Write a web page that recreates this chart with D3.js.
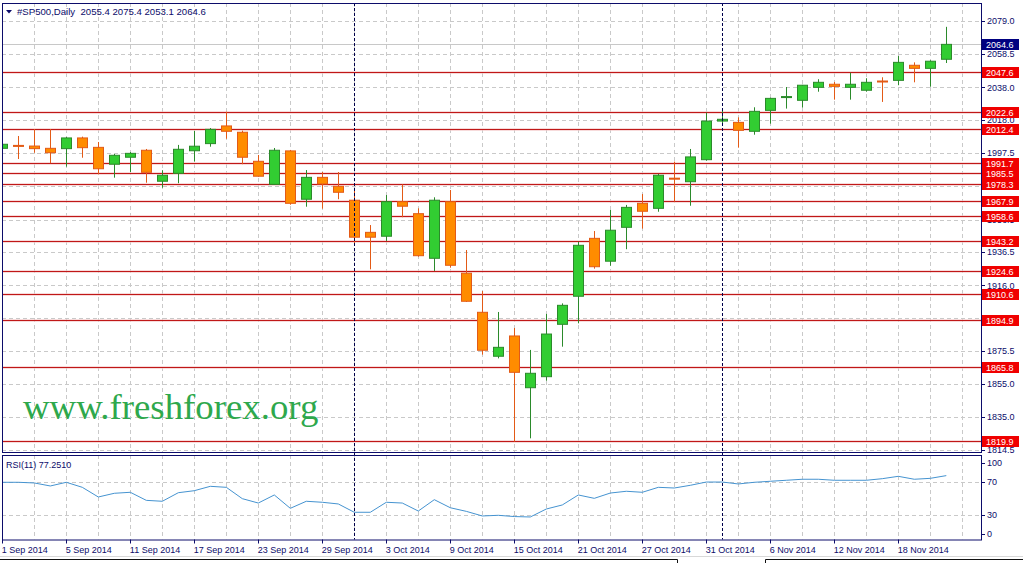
<!DOCTYPE html>
<html>
<head>
<meta charset="utf-8">
<script src="https://cdn.jsdelivr.net/npm/d3@7"></script>
<style>
  html, body { margin: 0; padding: 0; background: #ffffff; }
  svg { display: block; }
  text { font-family: "Liberation Sans", Arial, sans-serif; }
</style>
</head>
<body>
<div id="chart"></div>
<script>
// ---------------- DATA ----------------
const symbol = "#SP500,Daily";
const dates = [
  "2014-09-01","2014-09-02","2014-09-03","2014-09-04","2014-09-05","2014-09-08","2014-09-09","2014-09-10","2014-09-11","2014-09-12",
  "2014-09-15","2014-09-16","2014-09-17","2014-09-18","2014-09-19","2014-09-22","2014-09-23","2014-09-24","2014-09-25","2014-09-26",
  "2014-09-29","2014-09-30","2014-10-01","2014-10-02","2014-10-03","2014-10-06","2014-10-07","2014-10-08","2014-10-09","2014-10-10",
  "2014-10-13","2014-10-14","2014-10-15","2014-10-16","2014-10-17","2014-10-20","2014-10-21","2014-10-22","2014-10-23","2014-10-24",
  "2014-10-27","2014-10-28","2014-10-29","2014-10-30","2014-10-31","2014-11-03","2014-11-04","2014-11-05","2014-11-06","2014-11-07",
  "2014-11-10","2014-11-11","2014-11-12","2014-11-13","2014-11-14","2014-11-17","2014-11-18","2014-11-19","2014-11-20","2014-11-21"
];
const openP = [
  2000.5,2002.3,2001.9,2000.5,2000.3,2006.9,2001.1,1990.7,1995.0,1999.3,
  1980.2,1985.1,1999.0,2003.4,2014.3,2010.4,1992.5,1978.3,1998.9,1969.1,
  1982.6,1977.1,1968.5,1948.7,1946.3,1967.6,1960.2,1932.7,1967.6,1923.5,
  1899.4,1872.3,1884.8,1852.9,1859.7,1892.0,1909.3,1945.0,1930.9,1951.8,
  1966.6,1963.5,1982.1,1979.9,1993.5,2017.3,2016.5,2011.0,2023.9,2031.8,
  2030.1,2038.1,2040.0,2038.1,2036.3,2042.0,2042.4,2051.7,2049.8,2055.4
];
const highP = [
  2003.2,2008.1,2012.4,2012.4,2007.5,2007.7,2004.4,1997.0,1998.2,2000.1,
  1987.0,2002.6,2011.2,2013.0,2023.1,2011.4,1996.4,2000.7,1999.5,1987.1,
  1985.9,1985.9,1974.8,1953.2,1971.7,1978.3,1963.5,1970.3,1974.8,1937.8,
  1912.5,1899.6,1889.7,1876.2,1898.4,1904.9,1942.9,1949.5,1962.5,1965.6,
  1972.3,1984.7,1992.3,2000.1,2022.5,2025.2,2019.6,2025.8,2031.7,2038.3,
  2039.6,2043.1,2041.4,2047.1,2043.7,2044.3,2057.4,2053.5,2054.8,2075.4
];
const lowP = [
  1996.8,1993.9,1997.8,1991.3,1989.2,1994.7,1984.5,1982.4,1985.9,1979.3,
  1976.2,1979.0,1992.3,2001.5,2006.4,1990.7,1983.0,1977.9,1965.7,1964.5,
  1963.3,1969.1,1942.0,1925.9,1943.4,1958.0,1933.7,1924.9,1926.9,1905.8,
  1873.3,1871.0,1819.6,1821.7,1857.2,1878.2,1892.6,1926.3,1928.1,1938.3,
  1951.0,1961.4,1967.6,1965.1,1992.9,2015.9,2000.9,2008.9,2015.7,2025.0,
  2025.6,2035.4,2030.5,2030.5,2035.4,2029.1,2039.4,2041.2,2038.5,2053.1
];
const closeP = [
  2003.0,2001.9,2000.3,1997.8,2006.9,2000.9,1987.9,1996.2,1997.4,1985.7,
  1983.9,1999.9,2001.8,2012.2,2011.0,1995.0,1983.3,1999.3,1966.6,1982.6,
  1978.5,1973.4,1945.7,1945.7,1967.6,1964.8,1934.3,1968.5,1928.4,1906.2,
  1876.0,1877.8,1862.4,1861.8,1886.0,1903.7,1940.7,1927.5,1950.0,1964.1,
  1961.7,1983.9,1981.6,1995.2,2017.3,2018.4,2011.6,2023.3,2031.3,2032.4,
  2039.4,2041.2,2038.7,2040.0,2041.2,2041.6,2053.5,2049.8,2054.2,2064.6
];
const rsiValues = [
  69.3,69.3,68.5,64.9,69.3,63.3,51.8,56.2,57.4,47.8,
  46.7,56.9,59.3,64.5,63.3,49.8,44.6,54.2,38.3,46.7,
  45.5,43.5,33.6,33.6,45.5,44.6,35.1,48.6,39.0,34.7,
  29.2,30.0,28.5,28.0,37.5,42.3,54.2,50.2,56.5,58.6,
  57.4,63.3,62.5,65.7,69.6,69.6,67.3,69.3,70.5,71.7,
  72.9,72.9,71.7,71.7,71.7,73.6,76.4,72.9,74.0,77.25
];
const levels = [2047.6,2022.6,2012.4,1991.7,1985.5,1978.3,1967.9,1958.6,1943.2,1924.6,1910.6,1894.9,1865.8,1819.9];
const priceTicks = [2079.0,2058.5,2038.0,2018.0,1997.5,1977.0,1956.5,1936.5,1916.0,1896.0,1875.5,1855.0,1835.0,1814.5];
const rsiTicks = [100,70,30,0];
const rsiGrid = [70,30];
const separators = ["2014-10-01","2014-11-03"];
const rsiLabel = "RSI(11) 77.2510";
const watermark = "www.freshforex.org";

// ---------------- LAYOUT ----------------
const W = 1023, H = 563;
const main = {l: 2, r: 981, t: 3, b: 452};
const sub = {l: 2, r: 981, t: 455, b: 539.5};
const navy = "#0c0c6a";
const gridCol = "#c9c9c9";

const svg = d3.select("#chart").append("svg").attr("width", W).attr("height", H);
svg.append("rect").attr("width", W).attr("height", H).attr("fill", "#fff");

const n = dates.length;
const parse = d3.timeParse("%Y-%m-%d");
const fmt = d3.timeFormat("%-d %b %Y");
const idx = d3.range(n);
const x = d3.scaleLinear().domain([0, n - 1]).range([2.3, 2.3 + 16 * (n - 1)]);
const y = d3.scaleLinear().domain([1814.5, 2079.0]).range([450, 21]);
const yr = d3.scaleLinear().domain([0, 100]).range([540.5, 456.5]);

const defs = svg.append("defs");
defs.append("clipPath").attr("id", "clipMain").append("rect")
  .attr("x", main.l).attr("y", main.t).attr("width", main.r - main.l).attr("height", main.b - main.t);
defs.append("clipPath").attr("id", "clipSub").append("rect")
  .attr("x", sub.l).attr("y", sub.t).attr("width", sub.r - sub.l).attr("height", sub.b - sub.t);

// ---------- grids ----------
const gMain = svg.append("g").attr("clip-path", "url(#clipMain)");
const gSub = svg.append("g").attr("clip-path", "url(#clipSub)");
const vgrid = d3.range(0, n + 2, 2);
[ [gMain, main], [gSub, sub] ].forEach(([g, p]) => {
  g.selectAll("line.vg").data(vgrid).enter().append("line")
    .attr("x1", d => Math.round(x(d)) + 0.5).attr("x2", d => Math.round(x(d)) + 0.5)
    .attr("y1", p.t).attr("y2", p.b)
    .attr("stroke", gridCol).attr("stroke-dasharray", "4,3");
});
gMain.selectAll("line.hg").data(priceTicks).enter().append("line")
  .attr("x1", main.l).attr("x2", main.r)
  .attr("y1", d => Math.round(y(d)) + 0.5).attr("y2", d => Math.round(y(d)) + 0.5)
  .attr("stroke", gridCol).attr("stroke-dasharray", "4,3");
gSub.selectAll("line.hg").data(rsiGrid).enter().append("line")
  .attr("x1", sub.l).attr("x2", sub.r)
  .attr("y1", d => Math.round(yr(d)) + 0.5).attr("y2", d => Math.round(yr(d)) + 0.5)
  .attr("stroke", gridCol).attr("stroke-dasharray", "4,3");

// watermark
svg.append("text").attr("x", 23).attr("y", 419)
  .attr("font-family", "'Liberation Serif', 'Times New Roman', serif")
  .style("font-family", "'Liberation Serif', 'Times New Roman', serif")
  .attr("font-size", 36.8).attr("fill", "#2ea84c").text(watermark);

// bid line
const last = closeP[n - 1];
gMain.append("line").attr("x1", main.l).attr("x2", main.r)
  .attr("y1", Math.round(y(last)) + 0.5).attr("y2", Math.round(y(last)) + 0.5)
  .attr("stroke", "#c8c8c8");

// level lines
gMain.selectAll("line.halo").data(levels).enter().append("line")
  .attr("x1", main.l).attr("x2", main.r)
  .attr("y1", d => Math.round(y(d)) + 0.5).attr("y2", d => Math.round(y(d)) + 0.5)
  .attr("stroke", "#f3c4c4").attr("stroke-width", 3).attr("opacity", 0.6);
gMain.selectAll("line.lvl").data(levels).enter().append("line")
  .attr("x1", main.l).attr("x2", main.r)
  .attr("y1", d => Math.round(y(d)) + 0.5).attr("y2", d => Math.round(y(d)) + 0.5)
  .attr("stroke", "#c01818").attr("stroke-width", 1.2);

// period separators
separators.forEach(s => {
  const i = dates.indexOf(s);
  svg.append("line").attr("x1", Math.round(x(i)) + 0.5).attr("x2", Math.round(x(i)) + 0.5)
    .attr("y1", main.t).attr("y2", sub.b)
    .attr("stroke", "#00004a").attr("stroke-dasharray", "3,2");
});

// ---------- candles ----------
const bull = {fill: "#32cd32", stroke: "#2b8a2b"};
const bear = {fill: "#ff8c00", stroke: "#e35a16"};
const candles = gMain.selectAll("g.c").data(idx).enter().append("g");
candles.append("line")
  .attr("x1", i => Math.round(x(i)) + 0.5).attr("x2", i => Math.round(x(i)) + 0.5)
  .attr("y1", i => y(highP[i])).attr("y2", i => y(lowP[i]))
  .attr("stroke", i => closeP[i] >= openP[i] ? bull.stroke : bear.stroke);
candles.append("rect")
  .attr("x", i => Math.round(x(i)) - 4.5)
  .attr("width", 10)
  .attr("y", i => y(Math.max(openP[i], closeP[i])))
  .attr("height", i => Math.max(1, Math.abs(y(openP[i]) - y(closeP[i]))))
  .attr("fill", i => closeP[i] >= openP[i] ? bull.fill : bear.fill)
  .attr("stroke", i => closeP[i] >= openP[i] ? bull.stroke : bear.stroke)
  .attr("stroke-width", 1);

// ---------- RSI ----------
gSub.append("path").datum(idx)
  .attr("d", d3.line().x(i => x(i)).y(i => yr(rsiValues[i])))
  .attr("fill", "none").attr("stroke", "#4593d0").attr("stroke-width", 1);

// ---------- frames ----------
[main, sub].forEach(p => {
  svg.append("rect").attr("x", p.l + 0.5).attr("y", p.t + 0.5)
    .attr("width", p.r - p.l).attr("height", p.b - p.t)
    .attr("fill", "none").attr("stroke", navy).attr("stroke-width", 1);
});

// ---------- right price axis ----------
// labels that sit right under a level box are hidden in the original
const shownTicks = priceTicks.filter(t => !levels.some(l => Math.abs(y(l) - y(t)) < 3));
const axP = svg.append("g");
axP.selectAll("line").data(priceTicks).enter().append("line")
  .attr("x1", main.r + 1).attr("x2", main.r + 4)
  .attr("y1", d => Math.round(y(d)) + 0.5).attr("y2", d => Math.round(y(d)) + 0.5)
  .attr("stroke", navy);
axP.selectAll("text").data(shownTicks).enter().append("text")
  .attr("x", 987).attr("y", d => y(d)).attr("dy", "0.35em")
  .attr("font-size", 9).attr("fill", navy).text(d => d.toFixed(1));

// level boxes
const lb = svg.selectAll("g.lb").data(levels).enter().append("g");
lb.append("rect").attr("x", 982).attr("y", d => Math.round(y(d)) - 5)
  .attr("width", 37).attr("height", 11).attr("fill", "#f00000");
lb.append("text").attr("x", 986).attr("y", d => Math.round(y(d)) + 0.5).attr("dy", "0.35em")
  .attr("font-size", 9).attr("fill", "#ffffff").text(d => d.toFixed(1));

// last price box
svg.append("rect").attr("x", 982).attr("y", Math.round(y(last)) - 5)
  .attr("width", 37).attr("height", 11).attr("fill", "#000080");
svg.append("text").attr("x", 986).attr("y", Math.round(y(last)) + 0.5).attr("dy", "0.35em")
  .attr("font-size", 9).attr("fill", "#ffffff").text(last.toFixed(1));

// ---------- RSI axis ----------
const rsiOff = v => v === 100 ? 6 : (v === 0 ? -7 : 0);
svg.selectAll("line.rt").data(rsiTicks).enter().append("line")
  .attr("x1", sub.r + 1).attr("x2", sub.r + 4)
  .attr("y1", d => Math.round(yr(d) + rsiOff(d)) + 0.5).attr("y2", d => Math.round(yr(d) + rsiOff(d)) + 0.5)
  .attr("stroke", navy);
svg.selectAll("text.rt").data(rsiTicks).enter().append("text")
  .attr("x", 987).attr("y", d => yr(d) + rsiOff(d)).attr("dy", "0.35em")
  .attr("font-size", 9).attr("fill", navy).text(d => d);

// ---------- date axis ----------
const labelIdx = idx.filter(i => i % 4 === 0);
svg.selectAll("line.dt").data(labelIdx).enter().append("line")
  .attr("x1", i => Math.round(x(i)) + 0.5).attr("x2", i => Math.round(x(i)) + 0.5)
  .attr("y1", sub.b).attr("y2", sub.b + 4).attr("stroke", navy);
svg.selectAll("text.dt").data(labelIdx).enter().append("text")
  .attr("x", i => x(i) - 0.5).attr("y", 553)
  .attr("font-size", 9).attr("fill", navy).text(i => fmt(parse(dates[i])));

// ---------- headers ----------
svg.append("path").attr("d", "M6,10 L12,10 L9,13.5 Z").attr("fill", navy);
svg.append("text").attr("x", 17).attr("y", 15).attr("font-size", 9.6).attr("fill", navy)
  .attr("xml:space", "preserve").style("white-space", "pre")
  .text(symbol + "  " + [openP[n-1], highP[n-1], lowP[n-1], closeP[n-1]].map(v => v.toFixed(1)).join(" "));
svg.append("text").attr("x", 6).attr("y", 468).attr("font-size", 9).attr("fill", navy).text(rsiLabel);

// ---------- bottom tab strip ----------
svg.append("line").attr("x1", 0).attr("x2", W).attr("y1", 556.5).attr("y2", 556.5).attr("stroke", "#d8d8d8");
svg.append("path").attr("d", "M0,559.5 H677.5 V563 M765.5,563 V559.5 H1023")
  .attr("fill", "none").attr("stroke", "#111");
</script>
</body>
</html>
